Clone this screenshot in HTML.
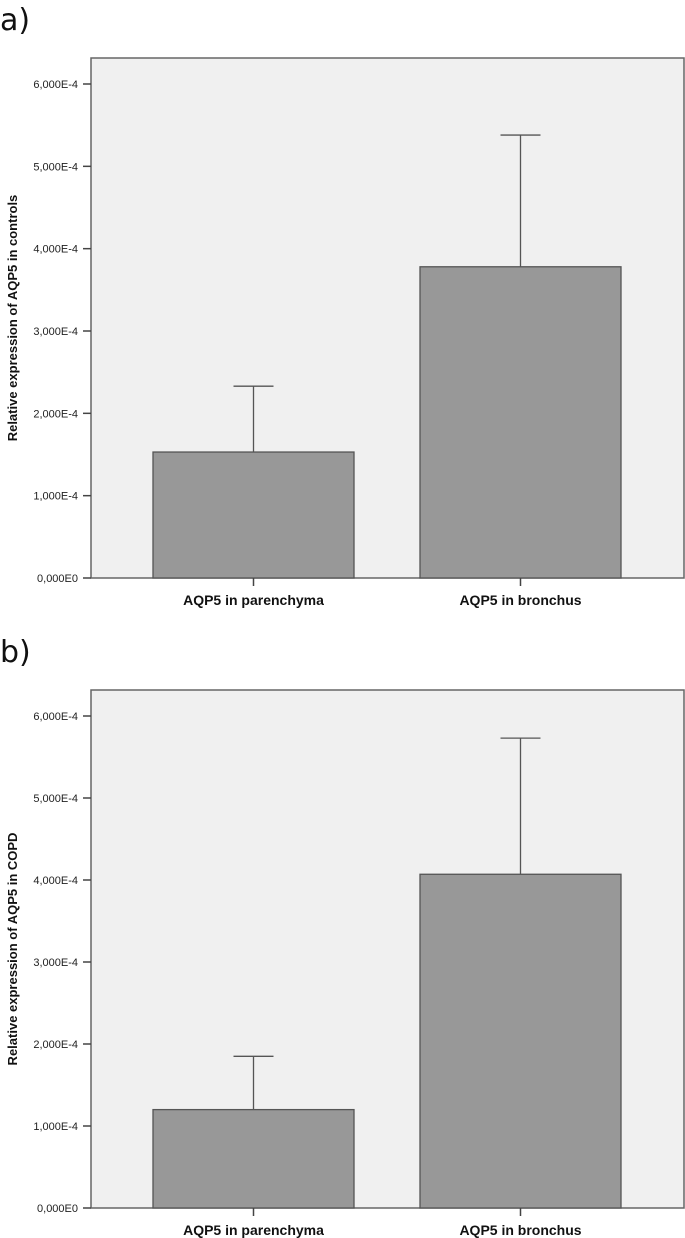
<!DOCTYPE html>
<html><head><meta charset="utf-8"><style>
html,body{margin:0;padding:0;background:#fff;}
svg{display:block;font-family:"Liberation Sans",Arial,sans-serif;}
</style></head><body>
<svg id="chart" width="685" height="1238" viewBox="0 0 685 1238"></svg>
<script>
const categories = ["AQP5 in parenchyma", "AQP5 in bronchus"];
const meansA = [1.53, 3.78];
const errA = [2.33, 5.38];
const meansB = [1.20, 4.07];
const errB = [1.85, 5.73];
const tickValues = [0, 1, 2, 3, 4, 5, 6];
const tickLabels = ["0,000E0", "1,000E-4", "2,000E-4", "3,000E-4", "4,000E-4", "5,000E-4", "6,000E-4"];
const panelLetters = ["a)", "b)"];
const yTitles = ["Relative expression of AQP5 in controls", "Relative expression of AQP5 in COPD"];

const NS = "http://www.w3.org/2000/svg";
const svg = document.getElementById("chart");
function mk(tag, attrs, parent) {
  const e = document.createElementNS(NS, tag);
  for (const k in attrs) e.setAttribute(k, attrs[k]);
  (parent || svg).appendChild(e);
  return e;
}
const panels = [
  {top: 58, zero: 578, six: 84, means: meansA, errs: errA, letterY: 30},
  {top: 690, zero: 1208, six: 716, means: meansB, errs: errB, letterY: 662}
];
panels.forEach((p, pi) => {
  const g = mk("g", {});
  
  
  const left = 91, right = 684;
  const y = v => p.zero - (p.zero - p.six) * v / 6;
  const xc = i => 253.5 + 267 * i;
  const lt = mk("text", {x: 0, y: p.letterY, "font-size": 30, fill: "#111", "font-family": "DejaVu Sans, sans-serif"}, g);
  lt.textContent = panelLetters[pi];
  
  
  const bg = mk("rect", {x: left, y: p.top, width: right - left, height: p.zero - p.top, fill: "#f0f0f0", stroke: "#666", "stroke-width": 1.5}, g);
  
  
  tickValues.forEach((tv, ti) => {
    const ty = y(tv);
    const tk = mk("line", {x1: 83, x2: left, y1: ty, y2: ty, stroke: "#444", "stroke-width": 1.5}, g);
    
    
    const tl = mk("text", {x: 78, y: ty + 4, "font-size": 11, "text-anchor": "end", fill: "#222"}, g);
    tl.textContent = tickLabels[ti];
    
    
  });
  categories.forEach((c, i) => {
    const cx = xc(i);
    const bw = 201;
    const bx = cx - bw / 2;
    const el = mk("line", {x1: cx, x2: cx, y1: y(p.means[i]), y2: y(p.errs[i]), stroke: "#555", "stroke-width": 1.3}, g);
    
    
    const cap = mk("line", {x1: cx - 20, x2: cx + 20, y1: y(p.errs[i]), y2: y(p.errs[i]), stroke: "#555", "stroke-width": 1.3}, g);
    
    
    const b = mk("rect", {x: bx, y: y(p.means[i]), width: bw, height: p.zero - y(p.means[i]), fill: "#989898", stroke: "#555", "stroke-width": 1.3}, g);
    
    
    const xt = mk("line", {x1: cx, x2: cx, y1: p.zero, y2: p.zero + 8, stroke: "#444", "stroke-width": 1.5}, g);
    
    
    const xl = mk("text", {x: cx, y: p.zero + 27, "font-size": 14, "font-weight": "bold", "text-anchor": "middle", fill: "#111"}, g);
    xl.textContent = c;
    
    
  });
  const mid = (p.top + p.zero) / 2;
  const yt = mk("text", {x: 17, y: mid, "font-size": 13, "font-weight": "bold", "text-anchor": "middle", fill: "#111", transform: "rotate(-90 17 " + mid + ")"}, g);
  yt.textContent = yTitles[pi];
  
  
});
</script>
</body></html>
